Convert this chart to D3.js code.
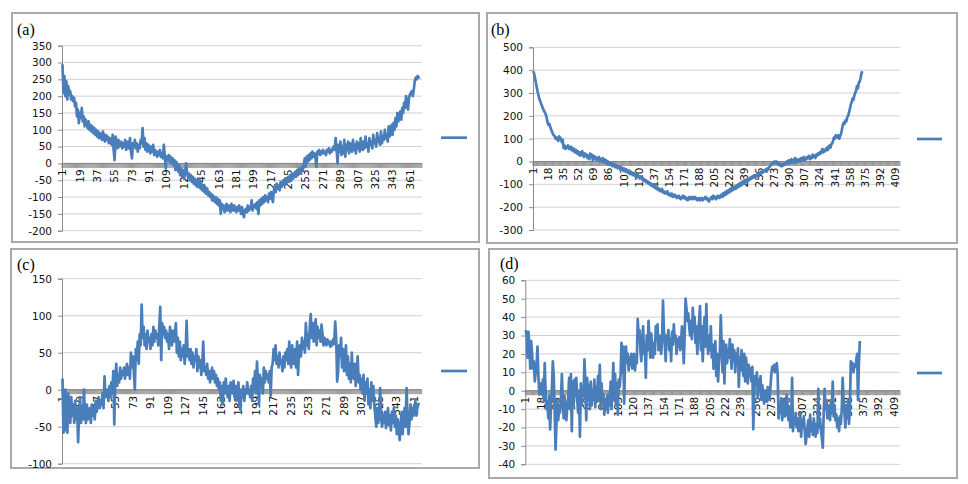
<!DOCTYPE html>
<html><head><meta charset="utf-8">
<script src="https://cdn.jsdelivr.net/npm/d3@7"></script>
<style>body{margin:0;background:#fff}svg{display:block}</style>
</head><body>
<svg id="chart" width="968" height="484"></svg>
<script>
// ---------- DATA ----------
const panelLetters = ["(a)", "(b)", "(c)", "(d)"];

const yTicksA = [-200,-150,-100,-50,0,50,100,150,200,250,300,350];
const yTicksB = [-300,-200,-100,0,100,200,300,400,500];
const yTicksC = [-100,-50,0,50,100,150];
const yTicksD = [-40,-30,-20,-10,0,10,20,30,40,50,60];

const categoryCountA = 373;
const categoryCountB = 414;
const categoryCountC = 368;
const categoryCountD = 415;

const xTickLabelsA = ["1","19","37","55","73","91","109","127","145","163","181","199","217","235","253","271","289","307","325","343","361"];
const xTickLabelsB = ["1","18","35","52","69","86","103","120","137","154","171","188","205","222","239","256","273","290","307","324","341","358","375","392","409"];
const xTickLabelsC = ["1","19","37","55","73","91","109","127","145","163","181","199","217","235","253","271","289","307","325","343","361"];
const xTickLabelsD = ["1","18","35","52","69","86","103","120","137","154","171","188","205","222","239","256","273","290","307","324","341","358","375","392","409"];

const seriesA = [
295,210,260,200,245,190,230,205,215,190,
200,185,195,170,180,140,160,120,150,135,
165,125,140,110,130,120,105,125,100,115,
95,110,90,105,85,100,80,95,75,90,
85,70,95,75,65,85,70,80,60,75,
70,55,85,40,10,80,60,45,70,50,
55,65,45,60,50,70,40,55,65,45,
75,35,15,60,50,70,45,60,35,55,
45,70,60,105,50,75,40,60,35,55,
45,30,50,35,55,25,40,30,20,35,
25,40,20,30,15,55,25,-15,20,10,
25,5,20,0,15,-5,10,-20,5,-10,
-25,-5,-35,-15,-40,-20,-45,-30,0,-25,
-40,-30,-50,-35,-55,-40,-60,-45,-65,-50,
-70,-55,-45,-75,-60,-80,-65,-85,-70,-90,
-75,-95,-85,-100,-90,-110,-95,-105,-115,-100,
-120,-105,-125,-110,-150,-120,-135,-125,-145,-130,
-120,-140,-125,-135,-145,-120,-130,-140,-125,-135,
-145,-130,-140,-125,-135,-150,-130,-145,-160,-140,
-135,-145,-125,-140,-130,-135,-110,-140,-125,-130,
-120,-135,-115,-150,-110,-125,-105,-120,-100,-115,
-95,-110,-100,-115,-90,-105,-85,-100,-115,-80,
-70,-85,-60,-75,-65,-80,-55,-70,-60,-50,
-65,-45,-60,-50,-40,-55,-35,-50,-30,-45,
-35,-25,-40,-20,-35,-15,-30,-25,-10,-20,
-5,15,-10,20,5,25,10,30,15,35,
20,30,25,-10,35,30,40,25,35,30,
40,30,35,25,40,35,45,30,40,35,
45,50,40,75,45,0,55,35,65,25,
50,30,70,20,55,40,65,30,60,45,
35,70,40,55,30,65,45,60,35,75,
50,40,65,45,80,50,60,35,75,55,
65,45,85,60,70,50,90,65,75,55,
95,60,80,70,100,75,85,65,110,80,
90,115,85,120,100,135,110,150,125,140,
155,130,165,150,180,165,200,175,160,195,
205,210,215,200,220,245,255,250,260,255,
258];

const seriesB = [
395,380,360,340,320,300,285,270,260,250,
240,230,220,215,205,190,170,160,165,150,
140,130,120,115,110,100,105,95,90,110,
105,100,85,95,60,70,55,65,60,70,
55,60,65,50,60,45,55,40,50,35,
45,30,40,25,35,45,30,20,35,25,
30,15,25,10,35,20,30,5,25,15,
20,5,15,10,20,0,10,5,15,-5,
10,0,5,-10,0,-5,-15,-5,-10,-20,
-10,-15,-25,-15,-20,-30,-20,-25,-35,-25,
-30,-40,-30,-35,-45,-35,-40,-50,-40,-55,
-45,-50,-60,-50,-55,-65,-55,-70,-60,-65,
-75,-65,-70,-80,-75,-85,-80,-90,-85,-95,
-90,-100,-95,-105,-100,-110,-105,-115,-110,-120,
-115,-125,-120,-130,-125,-120,-135,-130,-140,-135,
-140,-130,-145,-140,-150,-145,-140,-155,-150,-145,
-155,-150,-160,-155,-150,-160,-165,-155,-160,-150,
-160,-155,-165,-160,-170,-160,-155,-165,-160,-155,
-165,-160,-155,-165,-160,-170,-165,-160,-170,-165,
-160,-170,-165,-160,-155,-165,-160,-170,-175,-165,
-160,-155,-165,-150,-160,-155,-165,-160,-150,-155,
-160,-150,-145,-155,-140,-150,-135,-145,-130,-140,
-125,-135,-120,-130,-115,-125,-120,-110,-120,-105,
-115,-100,-110,-95,-105,-90,-100,-85,-95,-80,
-90,-80,-85,-75,-80,-70,-75,-65,-70,-60,
-70,-60,-65,-55,-60,-50,-55,-45,-50,-40,
-45,-40,-35,-45,-30,-35,-25,-20,-15,-10,
-5,-10,0,-5,0,-10,-5,-15,-10,-20,
-15,-20,-10,-15,-5,-10,0,-5,5,-10,
0,10,-5,5,0,15,-5,10,0,5,
10,0,15,5,10,20,5,15,10,20,
15,25,10,20,15,30,20,25,15,30,
25,35,30,40,35,45,55,40,50,45,
55,60,50,65,70,60,75,80,90,105,
100,115,110,105,115,100,110,120,140,160,
170,165,180,175,195,200,215,230,250,260,
275,270,290,300,310,330,320,345,350,365,
385,395];

const seriesC = [
15,-58,-55,0,-40,-58,-5,-30,-45,-10,
-35,-20,-45,-15,-40,-25,-71,-30,-10,-45,
-25,-40,0,-35,-45,-20,-40,-30,-25,-45,
-20,-35,-25,-40,-15,-30,-20,-10,-25,-15,
-20,-5,-25,18,-10,-5,0,-15,5,-10,
10,-5,25,-47,15,35,5,20,10,30,
15,25,20,30,15,25,35,20,30,15,
50,30,45,25,0,55,40,65,35,75,
60,115,70,85,60,75,55,80,65,70,
55,75,60,85,65,80,70,75,60,85,
112,40,90,75,85,70,80,65,75,55,
85,70,60,80,65,75,90,50,70,45,
65,40,55,45,60,35,50,93,45,55,
40,55,35,50,30,45,40,55,25,45,
30,40,20,35,65,25,30,20,35,15,
25,10,20,30,15,25,10,20,5,15,
0,10,-15,5,-20,10,-5,15,0,-10,
5,-15,10,0,-5,12,-10,5,-15,0,
10,-20,-27,0,-10,5,-15,0,-5,10,
-5,0,-10,5,-15,15,0,25,-5,38,
10,-20,20,5,15,-5,30,10,25,15,
20,10,25,-8,30,35,55,40,60,35,
45,30,50,35,40,25,45,30,50,40,
55,35,65,40,30,60,45,35,55,30,
65,20,50,60,45,70,55,65,50,90,
60,75,55,85,102,70,90,65,80,95,
60,85,70,80,65,88,75,60,70,65,
60,68,62,65,58,65,60,68,62,92,
70,11,25,60,45,70,30,55,25,40,
60,20,45,15,35,10,50,20,15,35,
5,25,45,10,20,0,15,-5,20,-15,
10,-5,15,-20,0,-25,10,-15,5,-20,
-35,-50,-25,-45,-30,2,-40,-50,-35,-45,
-30,-52,-40,-25,-48,-35,-55,-30,-45,-25,
-50,-35,-60,-40,-55,-68,-45,-30,-60,-40,
-25,-50,2,-35,-60,-45,-20,-40,-25,-35,
-30,-15,-35,-25,-20,-18];

const seriesD = [
33,30,18,32,25,12,27,20,12,16,
5,10,14,24,8,-2,4,0,-2,6,
-5,15,0,-10,-6,-15,-3,-21,-8,2,
16,8,-10,-32,-18,-5,-16,-8,-12,-5,
9,-5,-15,-3,-12,-16,-8,-4,7,-10,
9,-22,5,-8,6,-3,7,-5,-12,0,
-25,4,-8,2,-3,17,5,-16,7,-5,
3,-10,5,-8,0,-5,6,-9,2,-6,
8,-3,14,-10,4,-6,-2,-13,-5,-10,
-3,-12,-2,-8,5,-10,0,15,-5,9,
-8,4,-13,6,2,8,26,10,24,-7,
18,24,15,20,11,18,14,20,12,16,
20,11,18,15,39,30,33,22,16,28,
35,20,25,7,30,22,38,28,18,31,
22,18,26,20,35,28,36,22,30,25,
20,28,49,33,25,16,30,26,33,22,
28,16,32,25,36,27,30,20,28,24,
29,22,26,35,27,15,30,50,45,38,
42,35,30,38,28,45,32,40,26,35,
20,30,38,46,22,35,16,28,40,24,
47,28,20,30,22,35,18,25,12,22,
27,8,20,5,15,22,41,25,10,27,
4,20,25,15,22,18,28,20,12,25,
16,22,10,20,14,23,2,18,11,22,
15,8,20,5,18,10,4,14,8,12,
5,13,-21,-2,8,4,10,-4,6,0,
8,-5,3,-2,-7,0,-4,-6,2,-3,
-5,2,9,13,11,14,10,12,15,9,
-15,-8,-12,-4,-16,-10,-5,-14,-8,-2,
-12,-16,-9,-20,-14,7,-22,-15,-18,-12,
-20,-15,-22,-18,-12,-25,-16,-20,-14,-22,
-29,-25,-20,-16,-25,-13,-22,-18,-24,-15,
-20,-25,-18,-23,1,-20,-15,-22,-26,-31,
-12,1,-10,-5,-15,-8,-12,-16,-6,-10,
5,-14,-8,-16,-13,-20,-15,-22,-14,-18,
-10,7,-5,-12,-20,-8,-15,-5,-18,-10,
16,12,15,10,14,13,16,20,-5,15,27];

// ---------- LAYOUT ----------
const layouts = [
  {box:[12,13,479,242], left:62,  right:422, top:45.7,  bottom:230.7, letter:[17,35],  legend:[441,467,137.7]},
  {box:[487,13,957,243], left:533, right:900, top:47.3,  bottom:230,   letter:[491,35], legend:[917,942,139]},
  {box:[11,249,479,468], left:62,  right:421.7, top:278.7, bottom:463.7, letter:[17,270], legend:[441,467,371]},
  {box:[489,249,957,478], left:525.3, right:900, top:280.3, bottom:464.3, letter:[500,269], legend:[917,942,373]}
];

const panelData = [
  {values:seriesA, yTicks:yTicksA, n:categoryCountA, xLabels:xTickLabelsA},
  {values:seriesB, yTicks:yTicksB, n:categoryCountB, xLabels:xTickLabelsB},
  {values:seriesC, yTicks:yTicksC, n:categoryCountC, xLabels:xTickLabelsC},
  {values:seriesD, yTicks:yTicksD, n:categoryCountD, xLabels:xTickLabelsD}
];

const LINE = "#4a7ebb", GRID = "#d0d0d0", AXIS = "#8c8c8c", BORDER = "#a9a9a9";
const FONT = "'DejaVu Sans', sans-serif";

const svg = d3.select("#chart");

panelData.forEach((pd, k) => {
  const L = layouts[k];
  const g = svg.append("g");
  g.append("rect")
    .attr("x", L.box[0]).attr("y", L.box[1])
    .attr("width", L.box[2]-L.box[0]).attr("height", L.box[3]-L.box[1])
    .attr("fill", "#fff").attr("stroke", BORDER).attr("stroke-width", 2);

  const cats = d3.range(1, pd.n + 1);
  const x = d3.scaleBand().domain(cats).range([L.left, L.right]).padding(0);
  const bw = x.bandwidth();
  const y = d3.scaleLinear()
    .domain([pd.yTicks[0], pd.yTicks[pd.yTicks.length-1]])
    .range([L.bottom, L.top]);

  // gridlines
  g.append("g").selectAll("line").data(pd.yTicks).join("line")
    .attr("x1", L.left).attr("x2", L.right)
    .attr("y1", d => y(d)).attr("y2", d => y(d))
    .attr("stroke", GRID).attr("stroke-width", 1);

  // value axis
  const ya = g.append("g").attr("transform", `translate(${L.left},0)`)
    .call(d3.axisLeft(y).tickValues(pd.yTicks).tickSize(4).tickPadding(6).tickFormat(d => String(d)));
  ya.select(".domain").attr("stroke", AXIS);
  ya.selectAll(".tick line").attr("stroke", AXIS);
  ya.selectAll(".tick text").attr("font-family", FONT).attr("font-size", 10.5).attr("fill", "#111");

  // category axis at zero
  const y0 = y(0);
  g.append("line").attr("x1", L.left).attr("x2", L.right).attr("y1", y0).attr("y2", y0)
    .attr("stroke", AXIS).attr("stroke-width", 1);
  const bounds = d3.range(0, pd.n + 1).map(i => i < pd.n ? x(i + 1) : L.right);
  g.append("g").selectAll("line").data(bounds).join("line")
    .attr("x1", d => d).attr("x2", d => d).attr("y1", y0).attr("y2", y0 + 4.5)
    .attr("stroke", "#7a7a7a").attr("stroke-width", 0.75);

  g.append("g").selectAll("text").data(pd.xLabels).join("text")
    .attr("transform", d => `translate(${x(+d) + bw/2},${y0 + 6}) rotate(-90)`)
    .attr("text-anchor", "end").attr("dy", "0.35em")
    .attr("font-family", FONT).attr("font-size", 10.5).attr("fill", "#111")
    .text(d => d);

  // series line
  const line = d3.line().x((d, i) => x(i + 1) + bw/2).y(d => y(d));
  g.append("path").datum(pd.values).attr("d", line)
    .attr("fill", "none").attr("stroke", LINE).attr("stroke-width", 2.7)
    .attr("stroke-linejoin", "round");

  // legend key
  g.append("line").attr("x1", L.legend[0]).attr("x2", L.legend[1])
    .attr("y1", L.legend[2]).attr("y2", L.legend[2])
    .attr("stroke", LINE).attr("stroke-width", 2.7);

  // panel letter
  g.append("text").attr("x", L.letter[0]).attr("y", L.letter[1])
    .attr("font-family", "'Liberation Serif', 'Times New Roman', serif")
    .attr("font-size", 16).attr("fill", "#000")
    .text(panelLetters[k]);
});
</script>
</body></html>
